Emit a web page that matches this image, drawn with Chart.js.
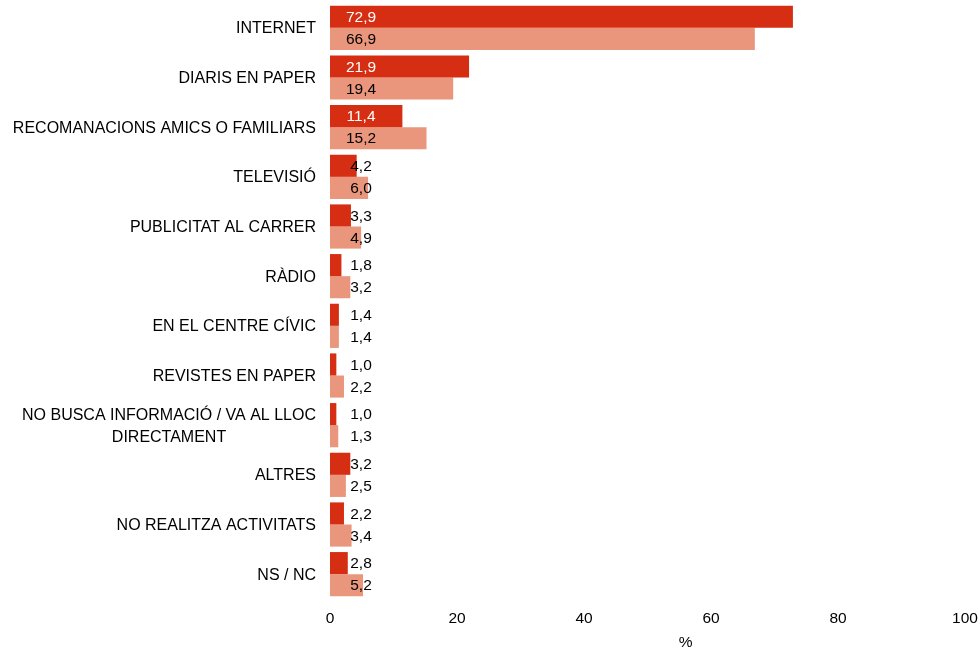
<!DOCTYPE html>
<html>
<head>
<meta charset="utf-8">
<script src="https://cdn.jsdelivr.net/npm/chart.js@4"></script>
<style>
html,body{margin:0;padding:0;background:#fff;}
#wrap{width:980px;height:649px;position:relative;}
</style>
</head>
<body>
<div id="wrap"><canvas id="c"></canvas></div>
<script>
const categories = [
  ["INTERNET"],
  ["DIARIS EN PAPER"],
  ["RECOMANACIONS AMICS O FAMILIARS"],
  ["TELEVISIÓ"],
  ["PUBLICITAT AL CARRER"],
  ["RÀDIO"],
  ["EN EL CENTRE CÍVIC"],
  ["REVISTES EN PAPER"],
  ["NO BUSCA INFORMACIÓ / VA AL LLOC", "DIRECTAMENT"],
  ["ALTRES"],
  ["NO REALITZA ACTIVITATS"],
  ["NS / NC"]
];
const seriesA = [72.9, 21.9, 11.4, 4.2, 3.3, 1.8, 1.4, 1.0, 1.0, 3.2, 2.2, 2.8];
const seriesB = [66.9, 19.4, 15.2, 6.0, 4.9, 3.2, 1.4, 2.2, 1.3, 2.5, 3.4, 5.2];
const xTicks = [0, 20, 40, 60, 80, 100];
const axisTitle = '%';

const FONT = "'Liberation Sans', Arial, sans-serif";
const DARK = '#d52e12';
const LIGHT = '#e9967c';

const catLabelPlugin = {
  id: 'catLabels',
  afterDraw(chart) {
    const ctx = chart.ctx;
    const y = chart.scales.y;
    const x = chart.scales.x;
    const left = chart.chartArea.left;
    ctx.save();
    ctx.font = '16px ' + FONT;
    ctx.fillStyle = '#000';
    ctx.textBaseline = 'middle';
    categories.forEach((lines, i) => {
      const cy = y.getPixelForValue(i) + 1;
      const widths = lines.map(l => ctx.measureText(l).width);
      const maxW = Math.max(...widths);
      const lh = 22;
      const startY = cy - (lines.length - 1) * lh / 2;
      lines.forEach((l, j) => {
        ctx.textAlign = 'center';
        ctx.fillText(l, left - 14 - maxW / 2, startY + j * lh);
      });
    });
    // axis title
    ctx.font = '15.5px ' + FONT;
    ctx.textAlign = 'center';
    ctx.fillText(axisTitle, x.getPixelForValue(56), x.bottom - 6);
    ctx.restore();
  }
};

const valueLabelPlugin = {
  id: 'valueLabels',
  afterDatasetsDraw(chart) {
    const ctx = chart.ctx;
    const x0 = chart.scales.x.getPixelForValue(0);
    ctx.save();
    ctx.font = '15.5px ' + FONT;
    ctx.textAlign = 'center';
    ctx.textBaseline = 'middle';
    chart.data.datasets.forEach((ds, di) => {
      const meta = chart.getDatasetMeta(di);
      meta.data.forEach((el, i) => {
        const v = ds.data[i];
        ctx.fillStyle = (di === 0 && v >= 10) ? '#fff' : '#000';
        ctx.fillText(v.toFixed(1).replace('.', ','), x0 + 31, el.y + 1);
      });
    });
    ctx.restore();
  }
};

new Chart(document.getElementById('c'), {
  type: 'bar',
  data: {
    labels: categories.map(c => c.join(' ')),
    datasets: [
      { data: seriesA, backgroundColor: DARK, borderWidth: 0, barPercentage: 1.0, categoryPercentage: 0.89 },
      { data: seriesB, backgroundColor: LIGHT, borderWidth: 0, barPercentage: 1.0, categoryPercentage: 0.89 }
    ]
  },
  options: {
    indexAxis: 'y',
    responsive: true,
    maintainAspectRatio: false,
    animation: false,
    layout: { padding: { left: 330, right: 0, top: 3, bottom: 0 } },
    plugins: { legend: { display: false }, tooltip: { enabled: false } },
    scales: {
      x: {
        min: 0, max: 100,
        afterBuildTicks(scale) { scale.ticks = xTicks.map(v => ({ value: v })); },
        afterFit(scale) { scale.height = 50; scale.paddingRight = 15; scale.paddingLeft = 0; },
        grid: { display: false, drawTicks: false },
        border: { display: false },
        ticks: { font: { size: 15.5, family: FONT }, color: '#000', padding: 10 },
        title: { display: false }
      },
      y: {
        grid: { display: false, drawTicks: false },
        border: { display: false },
        ticks: { display: false }
      }
    }
  },
  plugins: [catLabelPlugin, valueLabelPlugin]
});
</script>
</body>
</html>
